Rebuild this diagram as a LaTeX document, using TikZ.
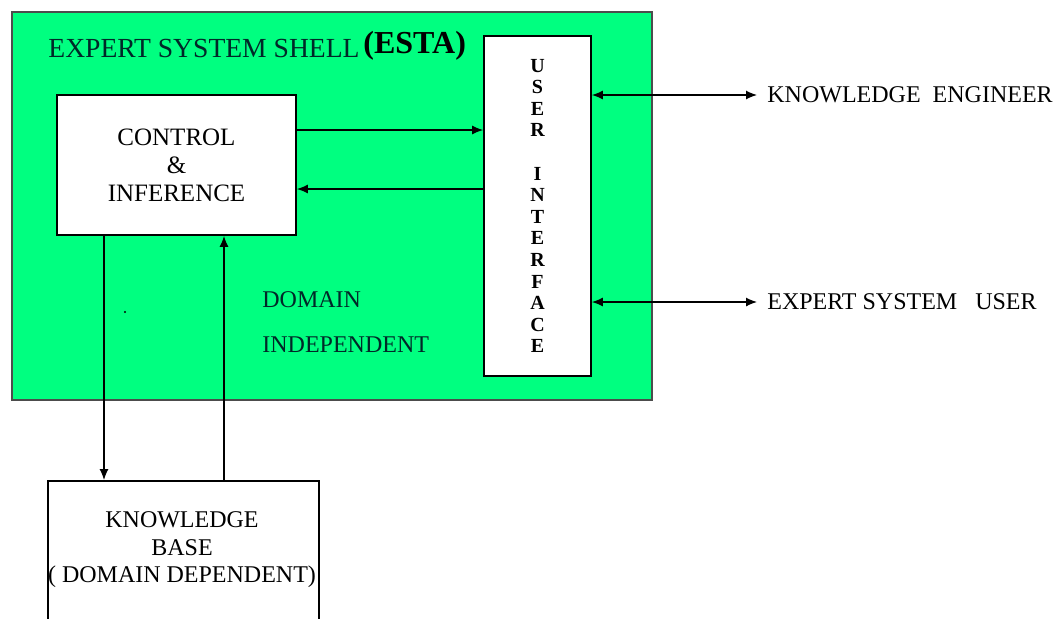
\documentclass[tikz,border=0pt]{standalone}
\usepackage{fontspec}
\setmainfont{Liberation Serif}
\usepackage{xcolor}
\usetikzlibrary{positioning,arrows.meta}
\definecolor{shellgreen}{RGB}{0,255,128}
\definecolor{darkink}{RGB}{0,40,40}
\tikzset{
  box/.style={draw=black,fill=white,line width=0.9pt,inner sep=0pt,align=center},
  lbl/.style={inner sep=0pt,anchor=west,font=\fontsize{12}{14}\selectfont},
  conn/.style={line width=0.6pt,-{Latex[length=5.5pt,width=4.5pt]}},
  both/.style={line width=0.6pt,{Latex[length=5.5pt,width=4.5pt]}-{Latex[length=5.5pt,width=4.5pt]}}
}
\begin{document}
\begin{tikzpicture}[x=0.5pt,y=-0.5pt]
\useasboundingbox (0,0) rectangle (1055,618);
\clip (0,0) rectangle (1055,618);
% shell
\node[draw=black!70,fill=shellgreen,line width=0.8pt,minimum width=320pt,minimum height=194pt,inner sep=0pt] (shell) at (332,206) {};
\node[lbl,text=darkink,font=\fontsize{13.8}{15}\selectfont] (title) at (48,48) {EXPERT SYSTEM SHELL};
\node[inner sep=0pt,anchor=west,font=\fontsize{16}{18}\selectfont\bfseries] (esta) at (363,46) {(ESTA)};
\node[lbl,text=darkink] (dom) at (262,300) {DOMAIN};
\node[lbl,text=darkink] (indep) at (262,345) {INDEPENDENT};
\node[circle,fill=black,inner sep=0.4pt] (dot) at (125,312) {};
% boxes
\node[box,minimum width=119.5pt,minimum height=70pt,font=\fontsize{12.5}{14}\selectfont] (ctrl) at (176.5,165) {CONTROL\\\&\\INFERENCE};
\node[box,minimum width=53.5pt,minimum height=170pt,font=\fontsize{10}{10.8}\selectfont\bfseries] (ui) at (537.5,206) {U\\S\\E\\R\\[10.8pt]I\\N\\T\\E\\R\\F\\A\\C\\E};
\node[box,minimum width=135.5pt,minimum height=80pt,anchor=north west] (kb) at (47,480) {};
\node[align=center,inner sep=0pt,font=\fontsize{12}{13.75}\selectfont] (kbtext) at (182,550) {KNOWLEDGE\\BASE\\( DOMAIN DEPENDENT)};
% outside
\node[lbl,inner xsep=5pt] (eng) at (757,95) {KNOWLEDGE~ ENGINEER};
\node[lbl,inner xsep=5pt] (usr) at (757,302) {EXPERT SYSTEM~~ USER};
% connectors
\draw[conn] (ctrl.east |- 0,130) -- (ui.west |- 0,130);
\draw[conn] (ui.west |- 0,189) -- (ctrl.east |- 0,189);
\draw[conn] (ctrl.south -| 104,0) -- (kb.north -| 104,0);
\draw[conn] (kb.north -| 224,0) -- (ctrl.south -| 224,0);
\draw[both] (ui.east |- eng.west) -- (eng.west);
\draw[both] (ui.east |- usr.west) -- (usr.west);
\end{tikzpicture}
\end{document}
